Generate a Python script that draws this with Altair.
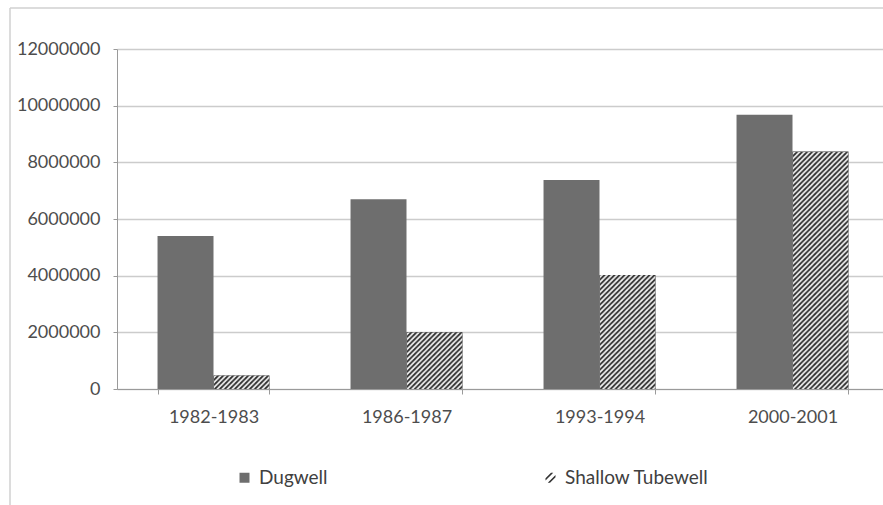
import base64
import altair as alt
import pandas as pd

# ---- data ----
periods = ["1982-1983", "1986-1987", "1993-1994", "2000-2001"]
series = ["Dugwell", "Shallow Tubewell"]
dugwell = [5400000, 6700000, 7380000, 9680000]
shallow = [480000, 2000000, 4020000, 8380000]
y_ticks = [0, 2000000, 4000000, 6000000, 8000000, 10000000, 12000000]

rows = []
for p, d, s in zip(periods, dugwell, shallow):
    rows.append({"period": p, "series": series[0], "value": d})
    rows.append({"period": p, "series": series[1], "value": s})
df = pd.DataFrame(rows)

FONT = "Lato"
TXT = "#4d4d4d"

hatch_svg = (
    "<svg xmlns='http://www.w3.org/2000/svg'>"
    "<defs><pattern id='h' width='5' height='5' patternUnits='userSpaceOnUse'>"
    "<rect width='5' height='5' fill='#f2f2f2'/>"
    "<path d='M-1,1 L1,-1 M0,5 L5,0 M4,6 L6,4' stroke='#2e2e2e' stroke-width='1.8'/>"
    "</pattern></defs><rect width='100%' height='100%' fill='url(#h)'/></svg>"
)
hatch_url = "data:image/svg+xml;base64," + base64.b64encode(hatch_svg.encode()).decode()

stripes_path = "M-1,0.1L0.1,-1L0.55,-1L-1,0.55ZM-0.55,1L1,-0.55L1,-0.1L-0.1,1Z"

x_enc = alt.X(
    "period:N",
    sort=periods,
    scale=alt.Scale(domain=periods, range=[0, 772], paddingInner=0.42, paddingOuter=0.21),
    axis=alt.Axis(
        title=None, labelAngle=0, tickBand="extent", grid=False,
        domainColor="#9a9a9a", tickColor="#9a9a9a", tickSize=5,
        labelPadding=14, labelFont=FONT, labelFontSize=18, labelColor=TXT,
    ),
)
xo_enc = alt.XOffset("series:N", scale=alt.Scale(domain=series, paddingInner=0, paddingOuter=0))
y_enc = alt.Y(
    "value:Q",
    scale=alt.Scale(domain=[0, 12000000], nice=False),
    axis=alt.Axis(
        title=None, values=y_ticks, format="d",
        domainColor="#9a9a9a", tickColor="#9a9a9a", tickSize=4,
        gridColor="#cccccc", gridWidth=1.5,
        labelPadding=13, labelFont=FONT, labelFontSize=18, labelColor=TXT,
    ),
)

legend = alt.Legend(
    title=None, orient="none", legendX=118, legendY=419, direction="horizontal",
    columns=2, columnPadding=213, padding=0,
    labelFont=FONT, labelFontSize=19, labelColor="#404040", labelOffset=5,
    symbolSize=100, symbolOpacity=1,
)

color_enc = alt.Color("series:N", scale=alt.Scale(domain=series, range=["#6e6e6e", "#333333"]), legend=legend)

bars = alt.Chart(df).mark_bar().encode(
    x=x_enc,
    xOffset=xo_enc,
    y=y_enc,
    color=color_enc,
)

hatch = alt.Chart(df).transform_filter(
    "datum.series === 'Shallow Tubewell'"
).mark_image(aspect=False).encode(
    x=alt.X("period:N", sort=periods),
    xOffset=alt.XOffset("series:N"),
    y=alt.Y("value:Q"),
    y2=alt.datum(0),
    url=alt.value(hatch_url),
)

# carrier layer for the legend symbol shapes (drawn with zero size)
keys = alt.Chart(df).mark_point(filled=True, size=0, opacity=1).encode(
    x=alt.X("period:N", sort=periods),
    xOffset=alt.XOffset("series:N"),
    y=alt.datum(0),
    color=color_enc,
    shape=alt.Shape("series:N", scale=alt.Scale(domain=series, range=["square", stripes_path]), legend=legend),
)

# outer chart-area frame (top and left edges; the others fall outside the picture)
frame_src = pd.DataFrame({"k": [0]})
frame_top = alt.Chart(frame_src).mark_rule(color="#d0d0d0", strokeWidth=1.5).encode(
    x=alt.value(-107), x2=alt.value(1500), y=alt.value(-41)
)
frame_left = alt.Chart(frame_src).mark_rule(color="#d0d0d0", strokeWidth=1.5).encode(
    x=alt.value(-107), y=alt.value(-41), y2=alt.value(600)
)

chart = alt.layer(frame_top, frame_left, bars, hatch, keys).properties(
    width=766, height=340,
    autosize=alt.AutoSizeParams(type="none"),
    padding={"left": 117, "top": 49, "right": 0, "bottom": 116},
).configure_view(stroke="transparent")

chart.save("out.html", embed_options={"renderer": "svg", "actions": False})
